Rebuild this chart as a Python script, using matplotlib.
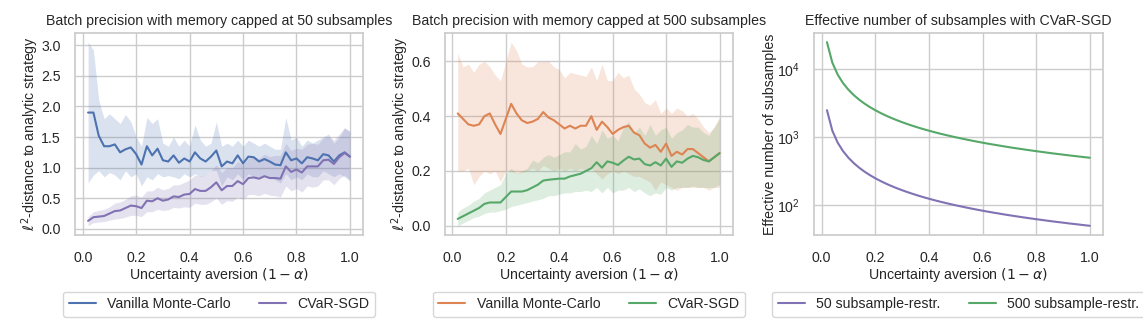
import numpy as np
import matplotlib
matplotlib.use("Agg")
import matplotlib.pyplot as plt
import seaborn as sns

sns.set_theme(style="whitegrid")
plt.rcParams['font.family'] = ['Liberation Sans', 'DejaVu Sans']
plt.rcParams['mathtext.fontset'] = 'dejavusans'

# uncertainty aversion grid (1 - alpha)
x = [0.02, 0.04, 0.06, 0.08, 0.10, 0.12, 0.14, 0.16, 0.18, 0.20,
     0.22, 0.24, 0.26, 0.28, 0.30, 0.32, 0.34, 0.36, 0.38, 0.40,
     0.42, 0.44, 0.46, 0.48, 0.50, 0.52, 0.54, 0.56, 0.58, 0.60,
     0.62, 0.64, 0.66, 0.68, 0.70, 0.72, 0.74, 0.76, 0.78, 0.80,
     0.82, 0.84, 0.86, 0.88, 0.90, 0.92, 0.94, 0.96, 0.98, 1.00]

# memory capped at 50 subsamples
mc50 = [1.90, 1.90, 1.52, 1.35, 1.35, 1.38, 1.25, 1.30, 1.33, 1.22,
        1.05, 1.35, 1.20, 1.31, 1.12, 1.10, 1.20, 1.08, 1.15, 1.10,
        1.25, 1.15, 1.10, 1.18, 1.28, 1.02, 1.10, 1.07, 1.20, 1.07,
        1.18, 1.17, 1.10, 1.14, 1.10, 1.05, 1.04, 1.25, 1.12, 1.15,
        1.07, 1.17, 1.15, 1.12, 1.22, 1.20, 1.10, 1.20, 1.25, 1.18]
mc50_hi = [3.05, 2.92, 2.10, 1.80, 1.88, 1.80, 1.72, 1.87, 1.75, 1.50,
           1.35, 1.82, 1.72, 1.80, 1.40, 1.35, 1.50, 1.35, 1.45, 1.35,
           1.70, 1.45, 1.35, 1.40, 1.75, 1.35, 1.40, 1.35, 1.45, 1.35,
           1.45, 1.40, 1.35, 1.40, 1.35, 1.30, 1.30, 1.82, 1.45, 1.50,
           1.35, 1.45, 1.40, 1.45, 1.50, 1.55, 1.40, 1.50, 1.65, 1.60]
mc50_lo = [0.75, 0.88, 0.95, 0.85, 0.92, 0.88, 0.80, 0.95, 0.85, 0.90,
           0.70, 0.85, 0.80, 0.90, 0.85, 0.87, 0.85, 0.82, 0.90, 0.85,
           0.90, 0.85, 0.88, 0.95, 0.95, 0.70, 0.85, 0.80, 0.90, 0.80,
           0.90, 0.85, 0.85, 0.87, 0.85, 0.80, 0.75, 0.90, 0.80, 0.85,
           0.80, 0.90, 0.85, 0.85, 0.95, 0.90, 0.85, 0.90, 0.85, 0.78]
sgd50 = [0.13, 0.19, 0.20, 0.21, 0.25, 0.29, 0.30, 0.34, 0.38, 0.37,
         0.34, 0.46, 0.45, 0.50, 0.46, 0.48, 0.53, 0.52, 0.56, 0.57,
         0.65, 0.62, 0.62, 0.68, 0.76, 0.63, 0.70, 0.70, 0.78, 0.73,
         0.83, 0.84, 0.82, 0.86, 0.83, 0.83, 0.82, 1.02, 0.93, 0.97,
         0.92, 1.02, 1.02, 1.02, 1.12, 1.13, 1.06, 1.17, 1.24, 1.18]
sgd50_hi = [0.20, 0.28, 0.30, 0.32, 0.36, 0.42, 0.44, 0.48, 0.54, 0.55,
            0.52, 0.62, 0.62, 0.68, 0.64, 0.66, 0.72, 0.72, 0.76, 0.80,
            0.88, 0.86, 0.88, 0.95, 1.05, 0.92, 1.00, 1.00, 1.10, 1.05,
            1.15, 1.18, 1.15, 1.22, 1.18, 1.20, 1.20, 1.40, 1.28, 1.32,
            1.30, 1.38, 1.40, 1.38, 1.48, 1.50, 1.45, 1.55, 1.65, 1.58]
sgd50_lo = [0.05, 0.10, 0.11, 0.12, 0.14, 0.16, 0.17, 0.19, 0.22, 0.22,
            0.20, 0.28, 0.28, 0.32, 0.30, 0.31, 0.35, 0.34, 0.36, 0.35,
            0.42, 0.40, 0.40, 0.44, 0.50, 0.40, 0.46, 0.45, 0.52, 0.48,
            0.56, 0.56, 0.54, 0.58, 0.55, 0.54, 0.52, 0.70, 0.62, 0.66,
            0.60, 0.70, 0.68, 0.70, 0.80, 0.80, 0.72, 0.82, 0.88, 0.80]

# memory capped at 500 subsamples
mc500 = [0.410, 0.390, 0.370, 0.365, 0.370, 0.400, 0.410, 0.370, 0.335, 0.390,
         0.445, 0.410, 0.385, 0.375, 0.380, 0.390, 0.415, 0.395, 0.385, 0.370,
         0.355, 0.365, 0.355, 0.365, 0.365, 0.400, 0.350, 0.380, 0.360, 0.335,
         0.350, 0.360, 0.365, 0.340, 0.330, 0.300, 0.285, 0.295, 0.270, 0.300,
         0.255, 0.270, 0.260, 0.280, 0.280, 0.265, 0.250, 0.235, 0.250, 0.265]
mc500_hi = [0.63, 0.58, 0.59, 0.56, 0.59, 0.60, 0.58, 0.55, 0.53, 0.60,
            0.67, 0.64, 0.59, 0.58, 0.58, 0.60, 0.60, 0.60, 0.58, 0.57,
            0.54, 0.56, 0.555, 0.55, 0.545, 0.58, 0.53, 0.59, 0.53, 0.53,
            0.56, 0.54, 0.55, 0.50, 0.48, 0.45, 0.44, 0.46, 0.41, 0.43,
            0.41, 0.43, 0.42, 0.40, 0.41, 0.39, 0.36, 0.34, 0.36, 0.40]
mc500_lo = [0.20, 0.20, 0.21, 0.15, 0.18, 0.20, 0.19, 0.20, 0.16, 0.20,
            0.20, 0.19, 0.195, 0.20, 0.21, 0.20, 0.22, 0.21, 0.20, 0.21,
            0.20, 0.21, 0.20, 0.21, 0.20, 0.21, 0.19, 0.17, 0.19, 0.20,
            0.19, 0.20, 0.19, 0.18, 0.18, 0.17, 0.16, 0.13, 0.16, 0.15,
            0.14, 0.13, 0.14, 0.14, 0.14, 0.14, 0.14, 0.13, 0.14, 0.14]
sgd500 = [0.025, 0.035, 0.045, 0.055, 0.065, 0.080, 0.085, 0.085, 0.085, 0.105,
          0.125, 0.125, 0.125, 0.130, 0.140, 0.150, 0.165, 0.168, 0.170, 0.172,
          0.172, 0.180, 0.185, 0.190, 0.200, 0.210, 0.232, 0.212, 0.235, 0.230,
          0.222, 0.238, 0.252, 0.242, 0.245, 0.225, 0.220, 0.232, 0.220, 0.245,
          0.215, 0.235, 0.230, 0.245, 0.255, 0.250, 0.240, 0.235, 0.250, 0.265]
sgd500_hi = [0.050, 0.065, 0.075, 0.090, 0.100, 0.120, 0.130, 0.140, 0.150, 0.190,
             0.210, 0.190, 0.200, 0.210, 0.240, 0.230, 0.250, 0.260, 0.250, 0.260,
             0.270, 0.270, 0.300, 0.280, 0.290, 0.330, 0.300, 0.350, 0.320, 0.330,
             0.310, 0.360, 0.380, 0.340, 0.360, 0.330, 0.370, 0.330, 0.350, 0.360,
             0.320, 0.340, 0.350, 0.370, 0.360, 0.360, 0.340, 0.330, 0.360, 0.390]
sgd500_lo = [0.000, 0.010, 0.020, 0.030, 0.035, 0.045, 0.050, 0.050, 0.055, 0.060,
             0.070, 0.075, 0.080, 0.085, 0.090, 0.095, 0.100, 0.110, 0.110, 0.115,
             0.120, 0.120, 0.125, 0.125, 0.130, 0.125, 0.140, 0.120, 0.140, 0.120,
             0.130, 0.130, 0.140, 0.125, 0.135, 0.120, 0.110, 0.120, 0.115, 0.140,
             0.130, 0.140, 0.140, 0.140, 0.145, 0.140, 0.140, 0.140, 0.140, 0.150]

# effective number of subsamples
eff50 = [2500, 1250, 833.3, 625, 500, 416.7, 357.1, 312.5, 277.8, 250,
         227.3, 208.3, 192.3, 178.6, 166.7, 156.3, 147.1, 138.9, 131.6, 125,
         119.0, 113.6, 108.7, 104.2, 100, 96.2, 92.6, 89.3, 86.2, 83.3,
         80.6, 78.1, 75.8, 73.5, 71.4, 69.4, 67.6, 65.8, 64.1, 62.5,
         61.0, 59.5, 58.1, 56.8, 55.6, 54.3, 53.2, 52.1, 51.0, 50]
eff500 = [25000, 12500, 8333, 6250, 5000, 4167, 3571, 3125, 2778, 2500,
          2273, 2083, 1923, 1786, 1667, 1563, 1471, 1389, 1316, 1250,
          1190, 1136, 1087, 1042, 1000, 962, 926, 893, 862, 833,
          806, 781, 758, 735, 714, 694, 676, 658, 641, 625,
          610, 595, 581, 568, 556, 543, 532, 521, 510, 500]

blue, orange, green, purple = '#4C72B0', '#DD8452', '#55A868', '#8172B3'
fs = 10.2

fig = plt.figure(figsize=(11.43, 3.3), dpi=100)
ax1 = fig.add_axes([0.0656, 0.288, 0.252, 0.612])
ax2 = fig.add_axes([0.389, 0.288, 0.252, 0.612])
ax3 = fig.add_axes([0.712, 0.288, 0.253, 0.612])

def band_plot(ax, mean, lo, hi, color, label):
    ax.fill_between(x, lo, hi, color=color, alpha=0.2, linewidth=0)
    ax.plot(x, mean, color=color, lw=1.5, label=label)

band_plot(ax1, mc50, mc50_lo, mc50_hi, blue, 'Vanilla Monte-Carlo')
band_plot(ax1, sgd50, sgd50_lo, sgd50_hi, purple, 'CVaR-SGD')
ax1.set_title('Batch precision with memory capped at 50 subsamples', fontsize=fs)
ax1.set_yticks([0.0, 0.5, 1.0, 1.5, 2.0, 2.5, 3.0])

band_plot(ax2, mc500, mc500_lo, mc500_hi, orange, 'Vanilla Monte-Carlo')
band_plot(ax2, sgd500, sgd500_lo, sgd500_hi, green, 'CVaR-SGD')
ax2.set_title('Batch precision with memory capped at 500 subsamples', fontsize=fs)
ax2.set_yticks([0.0, 0.2, 0.4, 0.6])

ax3.plot(x, eff50, color=purple, lw=1.5, label='50 subsample-restr.')
ax3.plot(x, eff500, color=green, lw=1.5, label='500 subsample-restr.')
ax3.set_yscale('log')
ax3.minorticks_off()
ax3.set_title('Effective number of subsamples with CVaR-SGD', fontsize=fs)
ax3.set_ylabel('Effective number of subsamples', fontsize=fs, labelpad=0)

for ax in (ax1, ax2):
    ax.set_ylabel(r'$\ell^2$-distance to analytic strategy', fontsize=fs, labelpad=0)

for ax in (ax1, ax2, ax3):
    ax.set_xticks([0.0, 0.2, 0.4, 0.6, 0.8, 1.0])
    ax.set_xlabel(r'Uncertainty aversion $(1-\alpha)$', fontsize=fs, labelpad=1)
    ax.tick_params(axis='x', labelsize=fs, pad=5.5)
    ax.tick_params(axis='y', labelsize=fs, pad=4)
    ax.legend(loc='upper center', bbox_to_anchor=(0.5, -0.245), ncol=2,
              fontsize=fs, frameon=True, handlelength=1.9)

fig.savefig('out.png', dpi=100)
